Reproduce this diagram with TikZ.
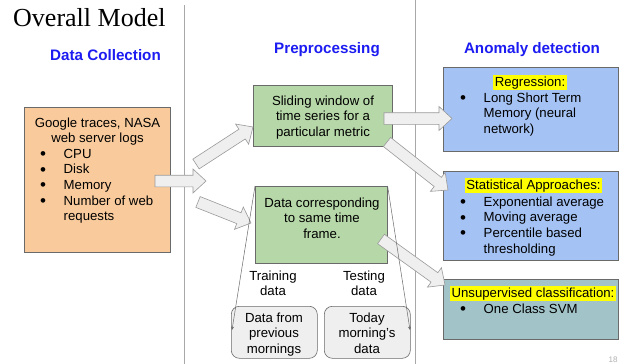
\documentclass[tikz,border=0pt]{standalone}
\usepackage{fontspec}
\setmainfont{Liberation Sans}
\newfontfamily\titlefont{Liberation Serif}
\usetikzlibrary{calc,arrows.meta}

\definecolor{orangefill}{HTML}{F9CB9C}
\definecolor{greenfill}{HTML}{B6D7A8}
\definecolor{bluefill}{HTML}{A4C2F4}
\definecolor{tealfill}{HTML}{A2C4C9}
\definecolor{greyfill}{HTML}{EFEFEF}
\definecolor{arrowfill}{HTML}{EFEFEF}
\definecolor{arrowline}{HTML}{9A9A9A}
\definecolor{boxline}{HTML}{6A6A6A}
\definecolor{splitline}{HTML}{6A6A6A}
\definecolor{divline}{HTML}{A8A8A8}
\definecolor{headblue}{HTML}{1C1CF2}
\definecolor{hlyellow}{HTML}{FFFF00}
\definecolor{pagegrey}{HTML}{B0B0B0}

\newcommand\bodysize{\fontsize{13.2pt}{15.7pt}\selectfont}
\newcommand\ctab[1]{\begin{tabular}[t]{@{}c@{}}#1\end{tabular}}
\newcommand\blist[1]{\begin{tabular}[t]{@{}p{23.5pt}@{}l@{}}#1\end{tabular}}
\newcommand\bul{\raisebox{-1.3pt}{\fontsize{17pt}{15pt}\selectfont\textbullet}}
\newcommand\hl[1]{{\setlength{\fboxsep}{1.5pt}\colorbox{hlyellow}{#1}}}

% wide outlined arrow from coordinate #1 to coordinate #2
\newcommand\blockarrow[2]{%
  \pgfpointdiff{\pgfpointanchor{#1}{center}}{\pgfpointanchor{#2}{center}}%
  \pgfgetlastxy\bax\bay
  \pgfmathsetmacro\baang{atan2(\bay,\bax)}%
  \pgfmathsetmacro\bashaft{veclen(\bax,\bay)-13}%
  \begin{scope}[shift={(#1)},rotate=\baang]
    \draw[barrow] (0pt,5.8pt) -- (\bashaft pt,5.8pt) -- (\bashaft pt,12pt)
      -- (#2) -- (\bashaft pt,-12pt) -- (\bashaft pt,-5.8pt) -- (0pt,-5.8pt) -- cycle;
  \end{scope}}

\begin{document}
\begin{tikzpicture}[x=1pt,y=-1pt,
  box/.style={draw=boxline, line width=0.6pt, inner sep=0pt, anchor=north west},
  body/.style={font=\bodysize, inner sep=0pt, anchor=base},
  listtxt/.style={font=\bodysize, inner sep=0pt, anchor=base west},
  header/.style={font=\bfseries\fontsize{15.2pt}{18pt}\selectfont, text=headblue, inner sep=0pt, anchor=base},
  barrow/.style={draw=arrowline, fill=arrowfill, line width=0.6pt, line join=miter},
  split/.style={draw=splitline, line width=0.5pt, -{Stealth[length=3.5pt,width=3pt]}},
  divider/.style={draw=divline, line width=0.7pt}]

\useasboundingbox (0,0) rectangle (627,364);
\fill[white] (0,0) rectangle (627,364);

% column separators
\draw[divider] (184,5) -- (184,364);
\draw[divider] (415,0) -- (415,364);

% title and column headers
\node[anchor=base west, inner sep=0pt, font=\titlefont\fontsize{26pt}{30pt}\selectfont] (title) at (13,27) {Overall Model};
\node[header] (hcollect) at (105.5,60) {Data Collection};
\node[header] (hprep) at (327,53) {Preprocessing};
\node[header] (hanom) at (532,53) {Anomaly detection};

% boxes
\node[box, fill=orangefill, minimum width=146pt, minimum height=145pt] (src) at (24,107) {};
\node[box, fill=greenfill, minimum width=139pt, minimum height=61pt] (slide) at (253,85) {};
\node[box, fill=greenfill, minimum width=132pt, minimum height=77pt] (frame) at (255,186) {};
\node[box, fill=greyfill, rounded corners=8pt, minimum width=86pt, minimum height=52pt] (train) at (231,306) {};
\node[box, fill=greyfill, rounded corners=8pt, minimum width=86pt, minimum height=52pt] (test) at (324,306) {};
\node[box, fill=bluefill, minimum width=175pt, minimum height=84pt] (regr) at (443,67) {};
\node[box, fill=bluefill, minimum width=175pt, minimum height=89pt] (stat) at (443,171) {};
\node[box, fill=tealfill, minimum width=175pt, minimum height=60pt] (unsup) at (443,279) {};

% box texts
\node[body] (srchead) at (97.5,127) {\ctab{Google traces, NASA\\web server logs}};
\node[listtxt] (srclist) at (40,158) {\blist{\bul & CPU\\ \bul & Disk\\ \bul & Memory\\ \bul & Number of web\\ & requests}};
\node[body] (slidetxt) at (323,105) {\ctab{Sliding window of\\time series for a\\particular metric}};
\node[body] (frametxt) at (322,207) {\ctab{Data corresponding\\to same time\\frame.}};
\node[body] (trainlbl) at (273,280) {\ctab{Training\\data}};
\node[body] (testlbl) at (364,280) {\ctab{Testing\\data}};
\node[body] (traintxt) at (274,322) {\ctab{Data from\\previous\\mornings}};
\node[body] (testtxt) at (367,322) {\ctab{Today\\morning's\\data}};

\node[body] (regrhead) at (530,86) {\hl{Regression:}};
\node[listtxt] (regrlist) at (460,102) {\blist{\bul & Long Short Term\\ & Memory (neural\\ & network)}};
\node[body] (stathead) at (533.5,189) {\hl{Statistical Approaches:}};
\node[listtxt] (statlist) at (460,206) {\blist{\bul & Exponential average\\ \bul & Moving average\\ \bul & Percentile based\\ & thresholding}};
\node[body] (unsuphead) at (533,297) {\hl{Unsupervised classification:}};
\node[listtxt] (unsuplist) at (460,313) {\blist{\bul & One Class SVM}};

% page number
\node[anchor=base, inner sep=0pt, font=\fontsize{8pt}{9pt}\selectfont, text=pagegrey] (pageno) at (613,362.5) {18};

% arrow end points
\coordinate (a1t) at (155,181);   \coordinate (a1h) at (206,181);
\coordinate (a2t) at (196,164);   \coordinate (a2h) at (253,127);
\coordinate (a3t) at (198,202);   \coordinate (a3h) at (251,223);
\coordinate (a4t) at (384,118.5); \coordinate (a4h) at (452,118.5);
\coordinate (a5t) at (387,142);   \coordinate (a5h) at (448,190);
\coordinate (a6t) at (381,239);   \coordinate (a6h) at (445,285);
\coordinate (trainin) at (232,330);
\coordinate (testin) at (410,330);

% wide arrows
\blockarrow{a1t}{a1h}
\blockarrow{a2t}{a2h}
\blockarrow{a3t}{a3h}
\blockarrow{a4t}{a4h}
\blockarrow{a5t}{a5h}
\blockarrow{a6t}{a6h}

% split of the aligned data into training and testing sets
\draw[split] (frame.north west) -- (trainin);
\draw[split] (frame.north east) -- (testin);
\end{tikzpicture}
\end{document}
